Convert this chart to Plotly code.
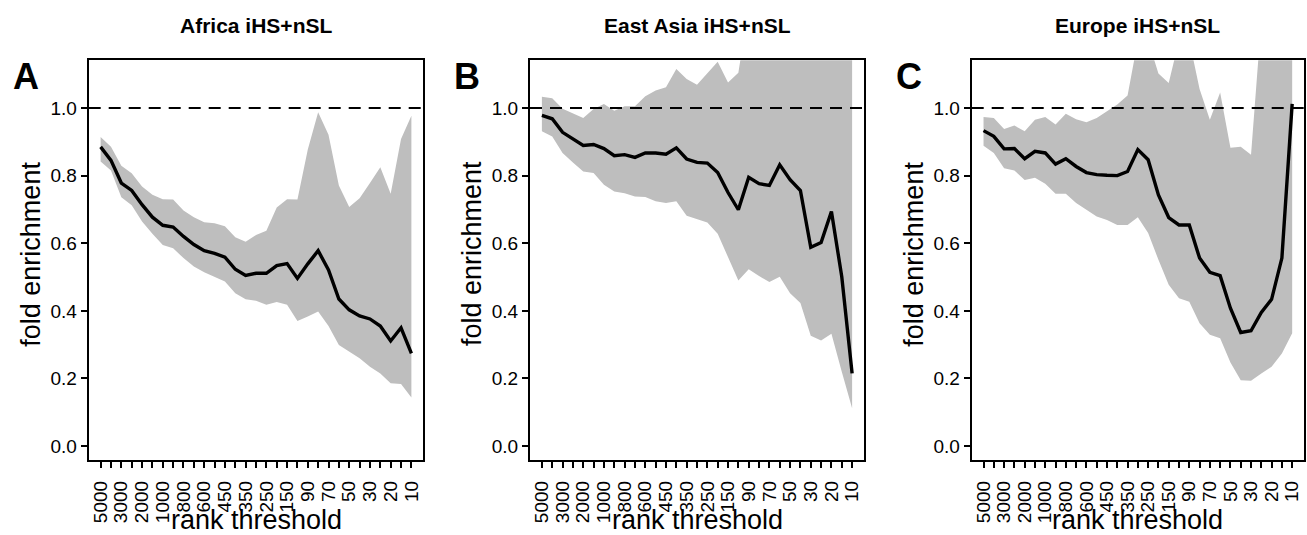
import plotly.graph_objects as go

# ---------------- data ----------------
ranks = ["5000", "4000", "3000", "2500", "2000", "1500", "1000", "900", "800", "700",
         "600", "500", "450", "400", "350", "300", "250", "200", "150", "100",
         "90", "80", "70", "60", "50", "40", "30", "25", "20", "15", "10"]
tick_text = [r if i % 2 == 0 else "" for i, r in enumerate(ranks)]
y_ticks = [0.0, 0.2, 0.4, 0.6, 0.8, 1.0]

panel_titles = ["Africa iHS+nSL", "East Asia iHS+nSL", "Europe iHS+nSL"]
panel_letters = ["A", "B", "C"]

africa_mean = [0.885, 0.845, 0.778, 0.756, 0.714, 0.677, 0.653, 0.648, 0.620, 0.596,
               0.578, 0.570, 0.559, 0.523, 0.505, 0.511, 0.511, 0.534, 0.540, 0.496,
               0.539, 0.578, 0.521, 0.435, 0.403, 0.385, 0.376, 0.355, 0.311, 0.350, 0.274]
africa_upper = [0.914, 0.885, 0.829, 0.807, 0.768, 0.743, 0.730, 0.729, 0.697, 0.677,
                0.662, 0.659, 0.650, 0.618, 0.604, 0.624, 0.637, 0.706, 0.730, 0.729,
                0.877, 0.987, 0.921, 0.771, 0.707, 0.733, 0.778, 0.825, 0.746, 0.908, 0.977]
africa_lower = [0.842, 0.815, 0.736, 0.712, 0.664, 0.628, 0.595, 0.585, 0.556, 0.531,
                0.514, 0.500, 0.487, 0.452, 0.434, 0.430, 0.418, 0.426, 0.418, 0.370,
                0.383, 0.398, 0.355, 0.299, 0.279, 0.260, 0.235, 0.215, 0.186, 0.184, 0.144]

eastasia_mean = [0.978, 0.968, 0.928, 0.909, 0.889, 0.892, 0.880, 0.859, 0.862, 0.854,
                 0.867, 0.867, 0.863, 0.882, 0.849, 0.839, 0.837, 0.809, 0.750, 0.699,
                 0.795, 0.776, 0.771, 0.832, 0.788, 0.756, 0.588, 0.602, 0.694, 0.501, 0.215]
eastasia_upper = [1.033, 1.029, 0.998, 0.985, 0.970, 0.997, 1.012, 0.992, 1.005, 1.005,
                  1.035, 1.052, 1.061, 1.115, 1.086, 1.069, 1.104, 1.137, 1.075, 1.104,
                  1.30, 1.35, 1.40, 1.45, 1.50, 1.55, 1.65, 1.75, 1.85, 2.00, 2.30]
eastasia_lower = [0.931, 0.916, 0.867, 0.839, 0.812, 0.808, 0.773, 0.753, 0.748, 0.738,
                  0.737, 0.724, 0.719, 0.724, 0.681, 0.671, 0.661, 0.628, 0.561, 0.490,
                  0.523, 0.503, 0.485, 0.501, 0.452, 0.423, 0.326, 0.312, 0.332, 0.220, 0.112]

europe_mean = [0.933, 0.916, 0.879, 0.880, 0.850, 0.872, 0.867, 0.834, 0.850, 0.827,
               0.809, 0.803, 0.801, 0.800, 0.812, 0.877, 0.847, 0.743, 0.676, 0.654,
               0.654, 0.556, 0.514, 0.504, 0.408, 0.336, 0.341, 0.395, 0.434, 0.556, 1.012]
europe_upper = [0.973, 0.970, 0.938, 0.948, 0.931, 0.965, 0.973, 0.951, 0.983, 0.967,
                0.958, 0.970, 0.990, 1.010, 1.037, 1.20, 1.20, 1.102, 1.074, 1.20,
                1.20, 1.056, 0.965, 1.046, 0.882, 0.885, 0.862, 1.26, 1.40, 1.60, 1.90]
europe_lower = [0.888, 0.867, 0.822, 0.815, 0.787, 0.794, 0.776, 0.746, 0.746, 0.719,
                0.699, 0.679, 0.669, 0.654, 0.654, 0.677, 0.630, 0.551, 0.477, 0.437,
                0.427, 0.363, 0.329, 0.319, 0.247, 0.195, 0.193, 0.215, 0.235, 0.274, 0.334]

means = [africa_mean, eastasia_mean, europe_mean]
uppers = [africa_upper, eastasia_upper, europe_upper]
lowers = [africa_lower, eastasia_lower, europe_lower]

# ---------------- layout geometry (pixels) ----------------
W, H = 1307, 535
panel_px = [(88.7, 423.3), (530.0, 864.0), (971.7, 1304.0)]
top_px, bottom_px = 60.3, 460.3
FONT = "Liberation Sans, Arial, sans-serif"
RIBBON = "#bebebe"

fig = go.Figure()
annotations = []
shapes = []
layout_axes = {}

for k in range(3):
    sfx = "" if k == 0 else str(k + 1)
    xa, ya = "x" + sfx, "y" + sfx
    # ribbon
    fig.add_trace(go.Scatter(
        x=ranks + ranks[::-1], y=uppers[k] + lowers[k][::-1],
        fill="toself", fillcolor=RIBBON, mode="lines", line=dict(width=0),
        xaxis=xa, yaxis=ya, showlegend=False, hoverinfo="skip"))
    # mean line
    fig.add_trace(go.Scatter(
        x=ranks, y=means[k], mode="lines",
        line=dict(color="black", width=3.4),
        xaxis=xa, yaxis=ya, showlegend=False))

    x0, x1 = panel_px[k]
    layout_axes["xaxis" + sfx] = dict(
        domain=[x0 / W, x1 / W], anchor=ya, type="category",
        categoryorder="array", categoryarray=ranks,
        range=[-1.15, 31.15], tickmode="array", tickvals=ranks, ticktext=tick_text,
        tickangle=-90, ticks="outside", ticklen=6, tickwidth=1.5, tickcolor="black",
        ticklabelstandoff=5,
        showline=True, linecolor="black", linewidth=2, mirror=True,
        showgrid=False, zeroline=False,
        tickfont=dict(family=FONT, size=19, color="black"))
    layout_axes["yaxis" + sfx] = dict(
        domain=[1 - bottom_px / H, 1 - top_px / H], anchor=xa,
        range=[-0.042, 1.141], tickmode="array", tickvals=y_ticks,
        ticktext=[f"{v:.1f}" for v in y_ticks],
        ticks="outside", ticklen=6, tickwidth=1.5, tickcolor="black",
        showline=True, linecolor="black", linewidth=2, mirror=True,
        showgrid=False, zeroline=False,
        tickfont=dict(family=FONT, size=19, color="black"))

    # dashed reference line at 1.0
    shapes.append(dict(type="line", xref=xa + " domain", yref=ya,
                       x0=0, x1=1, y0=1.0, y1=1.0,
                       line=dict(color="black", width=2, dash="12px,8px"), layer="above"))

    cx = (x0 + x1) / 2 / W
    annotations.append(dict(text="<b>" + panel_titles[k] + "</b>", x=cx, y=1 - 25 / H,
                            xref="paper", yref="paper", showarrow=False,
                            xanchor="center", yanchor="middle",
                            font=dict(family=FONT, size=21, color="black")))
    annotations.append(dict(text="<b>" + panel_letters[k] + "</b>",
                            x=(x0 - 63) / W, y=1 - 76 / H,
                            xref="paper", yref="paper", showarrow=False,
                            xanchor="center", yanchor="middle",
                            font=dict(family=FONT, size=36, color="black")))
    annotations.append(dict(text="fold enrichment", x=(x0 - 58) / W, y=1 - 254 / H,
                            xref="paper", yref="paper", showarrow=False, textangle=-90,
                            xanchor="center", yanchor="middle",
                            font=dict(family=FONT, size=27, color="black")))
    annotations.append(dict(text="rank threshold", x=cx, y=1 - 520 / H,
                            xref="paper", yref="paper", showarrow=False,
                            xanchor="center", yanchor="middle",
                            font=dict(family=FONT, size=27, color="black")))

fig.update_layout(
    width=W, height=H, margin=dict(l=0, r=0, t=0, b=0),
    paper_bgcolor="white", plot_bgcolor="white",
    showlegend=False, annotations=annotations, shapes=shapes,
    font=dict(family=FONT, color="black"),
    **layout_axes)

fig.write_html("out.html")
